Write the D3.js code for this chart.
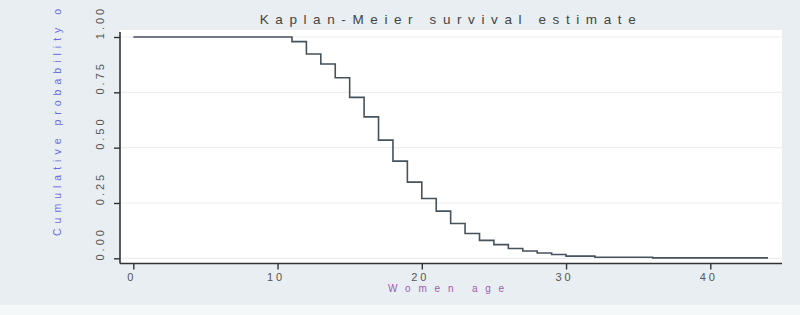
<!DOCTYPE html>
<html><head><meta charset="utf-8">
<script src="https://cdn.jsdelivr.net/npm/d3@7"></script>
<style>html,body{margin:0;padding:0;background:#f5f8f9;}svg{display:block;font-family:"Liberation Sans",Arial,sans-serif;}</style>
</head><body><svg id="c" width="800" height="315"></svg>
<script>
const ages = [0,11,12,13,14,15,16,17,18,19,20,21,22,23,24,25,26,27,28,29,30,32,36,44];
const survival = [1,0.979,0.923,0.878,0.816,0.727,0.639,0.534,0.439,0.344,0.270,0.213,0.157,0.112,0.081,0.062,0.044,0.033,0.024,0.017,0.010,0.005,0.002,0.002];
const xTicks = [0,10,20,30,40];
const yTicks = [0,0.25,0.5,0.75,1];
const title = "Kaplan-Meier survival estimate";
const xTitle = "Women age";
const yTitle = "Cumulative probability o";

const svg = d3.select("#c");
svg.append("rect").attr("x",0).attr("y",0).attr("width",800).attr("height",305).attr("fill","#e8eef1");
svg.append("rect").attr("x",0).attr("y",305).attr("width",800).attr("height",10).attr("fill","#f5f8f9");
svg.append("rect").attr("x",120).attr("y",30).attr("width",662).attr("height",233).attr("fill","#ffffff");

const x = d3.scaleLinear().domain([0,44]).range([133.3,768]);
const y = d3.scaleLinear().domain([0,1]).range([258.3,37]);

// gridlines
svg.append("g").selectAll("line").data(yTicks).join("line")
  .attr("x1",121).attr("x2",782).attr("y1",d=>y(d)).attr("y2",d=>y(d))
  .attr("stroke","#eceeee").attr("stroke-width",1.2);

// axes
const yAxis = d3.axisLeft(y).tickValues(yTicks).tickSize(6).tickFormat(d3.format(".2f"));
const gy = svg.append("g").attr("transform","translate(120,0)").call(yAxis);
gy.select(".domain").attr("d","M0,32V263.5").attr("stroke","#333").attr("stroke-width",1.6);
gy.selectAll(".tick line").attr("stroke","#333").attr("stroke-width",1.4);
gy.selectAll(".tick text").attr("x",0).attr("dy",0)
  .attr("transform","translate(-20,-15) rotate(-90)")
  .attr("text-anchor","middle").attr("dominant-baseline","central")
  .attr("fill","#555").style("font-size","11px").style("letter-spacing","3px");

const xAxis = d3.axisBottom(x).tickValues(xTicks).tickSize(6).tickFormat(d3.format("d"));
const gx = svg.append("g").attr("transform","translate(0,263.5)").call(xAxis);
gx.select(".domain").attr("d","M120,0H782").attr("stroke","#333").attr("stroke-width",1.6);
gx.selectAll(".tick line").attr("stroke","#333").attr("stroke-width",1.4);
gx.selectAll(".tick text").attr("y",10).attr("dy","0.71em")
  .attr("fill","#555").style("font-size","11px").style("letter-spacing","3px").attr("dx","-2px");

// line
const line = d3.line().x((d,i)=>x(ages[i])).y(d=>y(d)).curve(d3.curveStepAfter);
svg.append("path").datum(survival).attr("d",line)
  .attr("fill","none").attr("stroke","#46525c").attr("stroke-width",1.6);

// titles
svg.append("text").attr("x",451).attr("y",24).attr("text-anchor","middle")
  .attr("fill","#444").style("font-size","13.5px").style("letter-spacing","6.6px").text(title);
svg.append("text").attr("x",450).attr("y",292).attr("text-anchor","middle")
  .attr("fill","#a259b4").style("font-size","10px").style("letter-spacing","7.8px").text(xTitle);
svg.append("text").attr("transform","translate(61,236) rotate(-90)").attr("text-anchor","start")
  .attr("fill","#6a6ae0").style("font-size","10.5px").style("letter-spacing","5px").text(yTitle);
</script></body></html>
